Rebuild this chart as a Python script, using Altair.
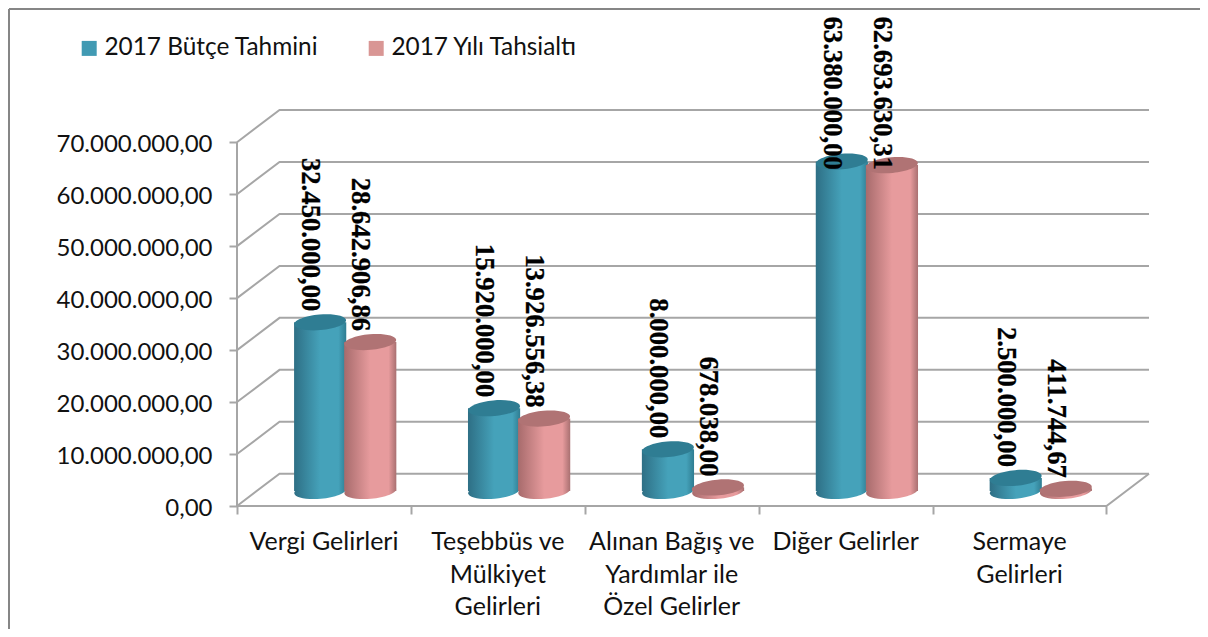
import altair as alt
import pandas as pd

categories = ["Vergi Gelirleri", "Teşebbüs ve\nMülkiyet\nGelirleri",
              "Alınan Bağış ve\nYardımlar ile\nÖzel Gelirler", "Diğer Gelirler", "Sermaye\nGelirleri"]
butce = [32450000.00, 15920000.00, 8000000.00, 63380000.00, 2500000.00]
tahsilat = [28642906.86, 13926556.38, 678038.00, 62693630.31, 411744.67]
butce_labels = ["32.450.000,00", "15.920.000,00", "8.000.000,00", "63.380.000,00", "2.500.000,00"]
tahsilat_labels = ["28.642.906,86", "13.926.556,38", "678.038,00", "62.693.630,31", "411.744,67"]
series_names = ["2017 Bütçe Tahmini", "2017 Yılı Tahsialtı"]
ticks = [0, 10000000, 20000000, 30000000, 40000000, 50000000, 60000000, 70000000]

DX = 0.2445      # chart depth, in category units
DY = 6.2e6       # chart depth, in value units
BAR_W = 0.30
SHIFT = 0.144
FONT = "Lato"
GRID = "#a6a6a6"

xs = alt.Scale(domain=[0, 5 + DX], nice=False, zero=False)
ys = alt.Scale(domain=[0, 70e6 + DY], nice=False, zero=False)
xa = alt.Axis(values=[0, 1, 2, 3, 4, 5], labels=False, title=None, domain=False,
              grid=False, tickColor=GRID, tickWidth=2, tickSize=8)
ya = alt.Axis(values=ticks, title=None, domain=False, grid=False, tickColor=GRID,
              tickWidth=2, tickSize=8, labelPadding=17, labelFont=FONT,
              labelFontSize=24, labelColor="#111111", labelOffset=2,
              labelExpr="replace(replace(replace(format(datum.value,',.2f'),/,/g,'#'),'.',','),/#/g,'.')")


def X(f):
    return alt.X(f, scale=xs, axis=xa)


def Y(f):
    return alt.Y(f, scale=ys, axis=ya)


# walls
rows = []
for v in ticks:
    rows += [dict(x=0, y=v, k=v, o=0), dict(x=DX, y=v + DY, k=v, o=1), dict(x=5 + DX, y=v + DY, k=v, o=2)]
rows += [dict(x=0, y=0, k="floor", o=0), dict(x=5, y=0, k="floor", o=1), dict(x=5 + DX, y=DY, k="floor", o=2)]
rows += [dict(x=0, y=0, k="wall", o=0), dict(x=0, y=70e6, k="wall", o=1)]
walls = alt.Chart(pd.DataFrame(rows)).mark_line(color=GRID, strokeWidth=2).encode(
    x=X("x:Q"), y=Y("y:Q"), detail="k:N", order="o:Q")


def grad(a, b, c):
    return alt.LinearGradient(gradient="linear", x1=0, x2=1, y1=0, y2=0,
                              stops=[alt.GradientStop(offset=0, color=a), alt.GradientStop(offset=0.5, color=b),
                                     alt.GradientStop(offset=0.85, color=b), alt.GradientStop(offset=1, color=c)])


ELLIPSE = "M-1,0 C-1,-0.165 -0.55,-0.3 0,-0.3 C0.55,-0.3 1,-0.165 1,0 C1,0.165 0.55,0.3 0,0.3 C-0.55,0.3 -1,0.165 -1,0 Z"


def series(values, labels, sign, dark, mid, edge, top):
    base = DY / 2 - 0.2e6
    df = pd.DataFrame({
        "xc": [i + 0.5 + DX / 2 + sign * SHIFT for i in range(5)],
        "x0": [i + 0.5 + DX / 2 + sign * SHIFT - BAR_W / 2 for i in range(5)],
        "x1": [i + 0.5 + DX / 2 + sign * SHIFT + BAR_W / 2 for i in range(5)],
        "xl": [i + 0.5 + DX / 2 + sign * SHIFT - 0.0575 for i in range(5)],
        "b": [base] * 5,
        "t": [v + base for v in values],
        "yl": [min(v + base + 2.1e6, 64.67e6) for v in values],
        "label": labels,
    })
    c = alt.Chart(df)
    g = grad(dark, mid, edge)
    ell = dict(shape=ELLIPSE, size=2704, filled=True, angle=355, opacity=1, strokeWidth=0)
    bottom = c.mark_point(fill=g, **ell).encode(x=X("xc:Q"), y=Y("b:Q"))
    body = c.mark_rect(fill=g).encode(x=X("x0:Q"), x2="x1:Q", y=Y("b:Q"), y2="t:Q")
    cap = c.mark_point(fill=top, **ell).encode(x=X("xc:Q"), y=Y("t:Q"))
    text = c.mark_text(font="Liberation Serif", fontWeight="bold", fontSize=26.7, angle=90, align="right",
                       baseline="middle", color="#000000", stroke="#000000", strokeWidth=0.3).encode(
        x=X("xl:Q"), y=Y("yl:Q"), text="label:N")
    return [bottom, body, cap], text


blue, blue_t = series(butce, butce_labels, -1, "#2e6f85", "#45a2ba", "#2f7d92", "#2f7d93")
pink, pink_t = series(tahsilat, tahsilat_labels, 1, "#a76b6c", "#e79b9d", "#a97071", "#b07374")

cat_df = pd.DataFrame({"x": [i + 0.5 for i in range(5)], "y": [0] * 5, "label": categories})
cat_text = alt.Chart(cat_df).mark_text(font=FONT, fontSize=25, baseline="top", align="center", dy=24,
                                       lineBreak="\n", lineHeight=32.5, color="#111111").encode(
    x=X("x:Q"), y=Y("y:Q"), text="label:N")

legend = alt.Chart(pd.DataFrame({"s": series_names, "x": [0, 0], "y": [0, 0]})).mark_point(
    filled=True, size=0, opacity=1).encode(
    x=X("x:Q"), y=Y("y:Q"),
    color=alt.Color("s:N", scale=alt.Scale(domain=series_names, range=["#419ab3", "#d99694"]),
                    legend=alt.Legend(title=None, orient="none", legendX=-160, legendY=-74, direction="horizontal",
                                      symbolType="square", symbolSize=225, labelFont=FONT, labelFontSize=24.4,
                                      labelColor="#111111", columnPadding=45, labelOffset=3, columns=2,
                                      labelLimit=400, symbolStrokeWidth=0, symbolOpacity=1)))

frame_left = alt.Chart(pd.DataFrame({"a": [0]})).mark_rule(color="#868686", strokeWidth=2).encode(
    x=alt.value(-228), y=alt.value(-101), y2=alt.value(519))
frame_top = alt.Chart(pd.DataFrame({"a": [0]})).mark_rule(color="#868686", strokeWidth=2).encode(
    y=alt.value(-101), x=alt.value(-228), x2=alt.value(963))

chart = alt.layer(frame_left, frame_top, walls, *blue, *pink, blue_t, pink_t, cat_text, legend).properties(
    width=912, height=396, autosize=alt.AutoSizeParams(type="none"),
    padding={"left": 229, "top": 102, "right": 51, "bottom": 123},
).configure_view(stroke=None)

chart.save("out.html", embed_options={"renderer": "svg", "actions": False})
